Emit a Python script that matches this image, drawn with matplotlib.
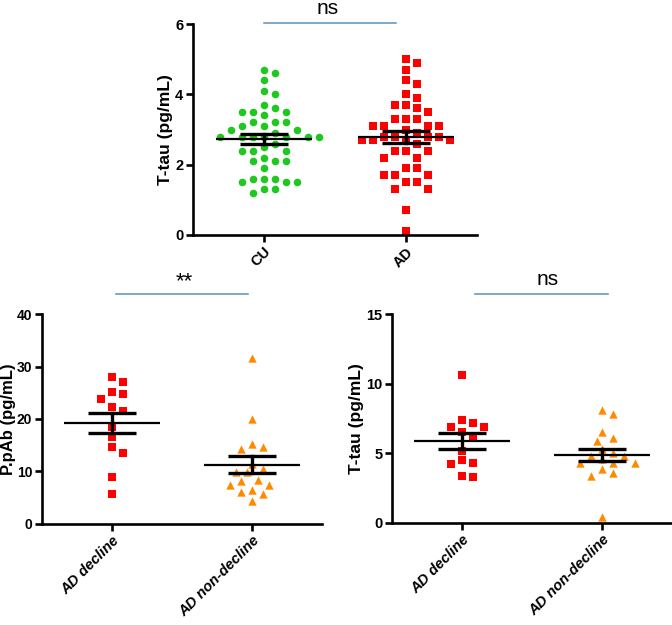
import numpy as np
import matplotlib
matplotlib.use("Agg")
import matplotlib.pyplot as plt
from matplotlib.transforms import blended_transform_factory

plt.rcParams['font.family'] = ['Liberation Sans', 'DejaVu Sans']

# ---------------- data ----------------
top_categories = ["CU", "AD"]
cu_ttau = [4.7, 4.6, 4.4, 4.1, 4.0, 3.7, 3.5, 3.5, 3.5, 3.6, 3.4, 3.2, 3.1, 3.2, 3.2,
           3.1, 3.0, 2.9, 3.0, 2.8, 2.8, 2.8, 2.8, 2.8, 2.8, 2.8, 2.6, 2.5, 2.4, 2.4,
           2.4, 2.1, 2.1, 2.1, 2.2, 1.9, 1.5, 1.6, 1.6, 1.6, 1.5, 1.5, 1.3, 1.3, 1.2]
ad_ttau = [5.0, 4.9, 4.7, 4.4, 4.3, 3.9, 4.0, 3.7, 3.7, 3.6, 3.5, 3.3, 3.3, 3.3, 3.1,
           3.1, 3.1, 3.1, 3.0, 2.8, 2.8, 2.7, 2.7, 2.7, 2.7, 2.8, 2.8, 2.9, 2.6, 2.4,
           2.4, 2.4, 2.2, 2.2, 1.9, 1.9, 1.7, 1.7, 1.7, 1.5, 1.5, 1.3, 1.3, 0.7, 0.1]

bottom_categories = ["AD decline", "AD non-decline"]
decline_ppab = [28.0, 27.0, 25.2, 23.8, 24.7, 22.3, 21.5, 18.4, 16.5, 14.6, 13.6, 9.0, 5.7]
nondecline_ppab = [31.6, 20.0, 15.2, 14.6, 14.2, 11.4, 10.4, 9.8, 9.8, 8.4, 8.2, 7.4,
                   7.4, 6.4, 6.1, 5.7, 4.4]
decline_ttau = [10.6, 7.4, 6.9, 7.2, 6.9, 6.5, 6.1, 5.2, 4.5, 4.2, 4.3, 3.3, 3.4]
nondecline_ttau = [7.8, 8.1, 6.5, 6.1, 5.9, 5.3, 5.0, 4.8, 4.8, 4.6, 4.3, 4.3, 4.3,
                   3.9, 3.6, 3.4, 0.4]

sig_top = "ns"
sig_left = "**"
sig_right = "ns"

GREEN = "#1ec81e"
RED = "#ff0000"
ORANGE = "#ff8a00"
SIGBLUE = "#5b8fb9"

fig = plt.figure(figsize=(6.72, 6.25), dpi=100)
W, H = 672.0, 625.0


def make_axes(left_px, right_px, top_px, bottom_px):
    return fig.add_axes([left_px / W, 1 - bottom_px / H,
                         (right_px - left_px) / W, (bottom_px - top_px) / H])


def style(ax, ymax, yticks, ylabel, xlabels, italic, label_x, label_fs=12.5,
          tick_fs=10.5):
    ax.set_xlim(-0.5, 1.5)
    ax.set_ylim(0, ymax)
    for s in ["top", "right"]:
        ax.spines[s].set_visible(False)
    for s in ["left", "bottom"]:
        ax.spines[s].set_linewidth(1.9)
    ax.tick_params(direction="out", length=5, width=1.9, labelsize=tick_fs, pad=2)
    ax.set_yticks(yticks)
    ax.set_yticklabels([str(t) for t in yticks], fontweight="bold")
    ax.set_xticks([0, 1])
    ax.set_xticklabels(xlabels, rotation=45, ha="right", rotation_mode="anchor",
                       fontweight="bold", fontsize=10.5,
                       fontstyle="italic" if italic else "normal")
    ax.set_ylabel(ylabel, fontweight="bold", fontsize=label_fs)
    ax.yaxis.set_label_coords(label_x, 0.5)


def swarm(ax, xc, vals, d_px=11.0, h_px=9.0):
    vals = np.asarray(vals, dtype=float)
    tr = ax.transData
    ypix = tr.transform(np.column_stack([np.zeros(len(vals)), vals]))[:, 1]
    xscale = tr.transform([[1, 0]])[0, 0] - tr.transform([[0, 0]])[0, 0]
    order = np.argsort(-vals, kind="stable")
    step = d_px / 2.0
    placed = []
    offs = np.zeros(len(vals))
    cands = [0.0]
    for k in range(1, 60):
        cands += [k * step, -k * step]
    for i in order:
        y = ypix[i]
        for c in cands:
            ok = True
            for px, py in placed:
                if ((px - c) / d_px) ** 2 + ((py - y) / h_px) ** 2 < 1 - 1e-6:
                    ok = False
                    break
            if ok:
                break
        placed.append((c, y))
        offs[i] = c / xscale
    return xc + offs


def mean_sem(ax, xc, vals):
    v = np.asarray(vals, dtype=float)
    m = v.mean()
    se = v.std(ddof=1) / np.sqrt(len(v))
    ax.plot([xc - 0.34, xc + 0.34], [m, m], color="black", lw=1.6, zorder=4,
            solid_capstyle="butt")
    ax.plot([xc - 0.17, xc + 0.17], [m + se, m + se], color="black", lw=2.4, zorder=4,
            solid_capstyle="butt")
    ax.plot([xc - 0.17, xc + 0.17], [m - se, m - se], color="black", lw=2.4, zorder=4,
            solid_capstyle="butt")
    ax.plot([xc, xc], [m - se, m + se], color="black", lw=2.4, zorder=4)


def significance(ax, x0, x1, y_line, text, tx, ty, fs=15):
    tr = blended_transform_factory(ax.transData, ax.transAxes)
    ax.plot([x0, x1], [y_line, y_line], color=SIGBLUE, lw=1.1, transform=tr,
            clip_on=False)
    ax.text(tx, ty, text, transform=tr, ha="center", va="center", fontsize=fs)


# ---------------- top panel ----------------
ax1 = make_axes(193, 477, 24, 235)
style(ax1, 6, [0, 2, 4, 6], "T-tau (pg/mL)", top_categories, False, -0.07)
xs = swarm(ax1, 0, cu_ttau)
ax1.scatter(xs, cu_ttau, marker="o", s=30, color=GREEN, linewidths=0, zorder=2,
            clip_on=False)
xs = swarm(ax1, 1, ad_ttau)
ax1.scatter(xs, ad_ttau, marker="s", s=30, color=RED, linewidths=0, zorder=2,
            clip_on=False)
mean_sem(ax1, 0, cu_ttau)
mean_sem(ax1, 1, ad_ttau)
significance(ax1, 0.0, 0.93, 1.003, sig_top, 0.45, 1.075)

# ---------------- bottom left ----------------
ax2 = make_axes(42, 322, 314.3, 523.7)
style(ax2, 40, [0, 10, 20, 30, 40], "P.pAb (pg/mL)", bottom_categories, True,
      -0.092, label_fs=12, tick_fs=10)
xs = swarm(ax2, 0, decline_ppab)
ax2.scatter(xs, decline_ppab, marker="s", s=30, color=RED, linewidths=0, zorder=2,
            clip_on=False)
xs = swarm(ax2, 1, nondecline_ppab)
ax2.scatter(xs, nondecline_ppab, marker="^", s=36, color=ORANGE, linewidths=0,
            zorder=2, clip_on=False)
mean_sem(ax2, 0, decline_ppab)
mean_sem(ax2, 1, nondecline_ppab)
significance(ax2, 0.03, 0.97, 1.095, sig_left, 0.52, 1.155, fs=16)

# ---------------- bottom right ----------------
ax3 = make_axes(392, 672, 314.3, 522.8)
style(ax3, 15, [0, 5, 10, 15], "T-tau (pg/mL)", bottom_categories, True, -0.1)
xs = swarm(ax3, 0, decline_ttau)
ax3.scatter(xs, decline_ttau, marker="s", s=30, color=RED, linewidths=0, zorder=2,
            clip_on=False)
xs = swarm(ax3, 1, nondecline_ttau)
ax3.scatter(xs, nondecline_ttau, marker="^", s=36, color=ORANGE, linewidths=0,
            zorder=2, clip_on=False)
mean_sem(ax3, 0, decline_ttau)
mean_sem(ax3, 1, nondecline_ttau)
significance(ax3, 0.09, 1.04, 1.097, sig_right, 0.61, 1.165)

fig.savefig("out.png", dpi=100)
